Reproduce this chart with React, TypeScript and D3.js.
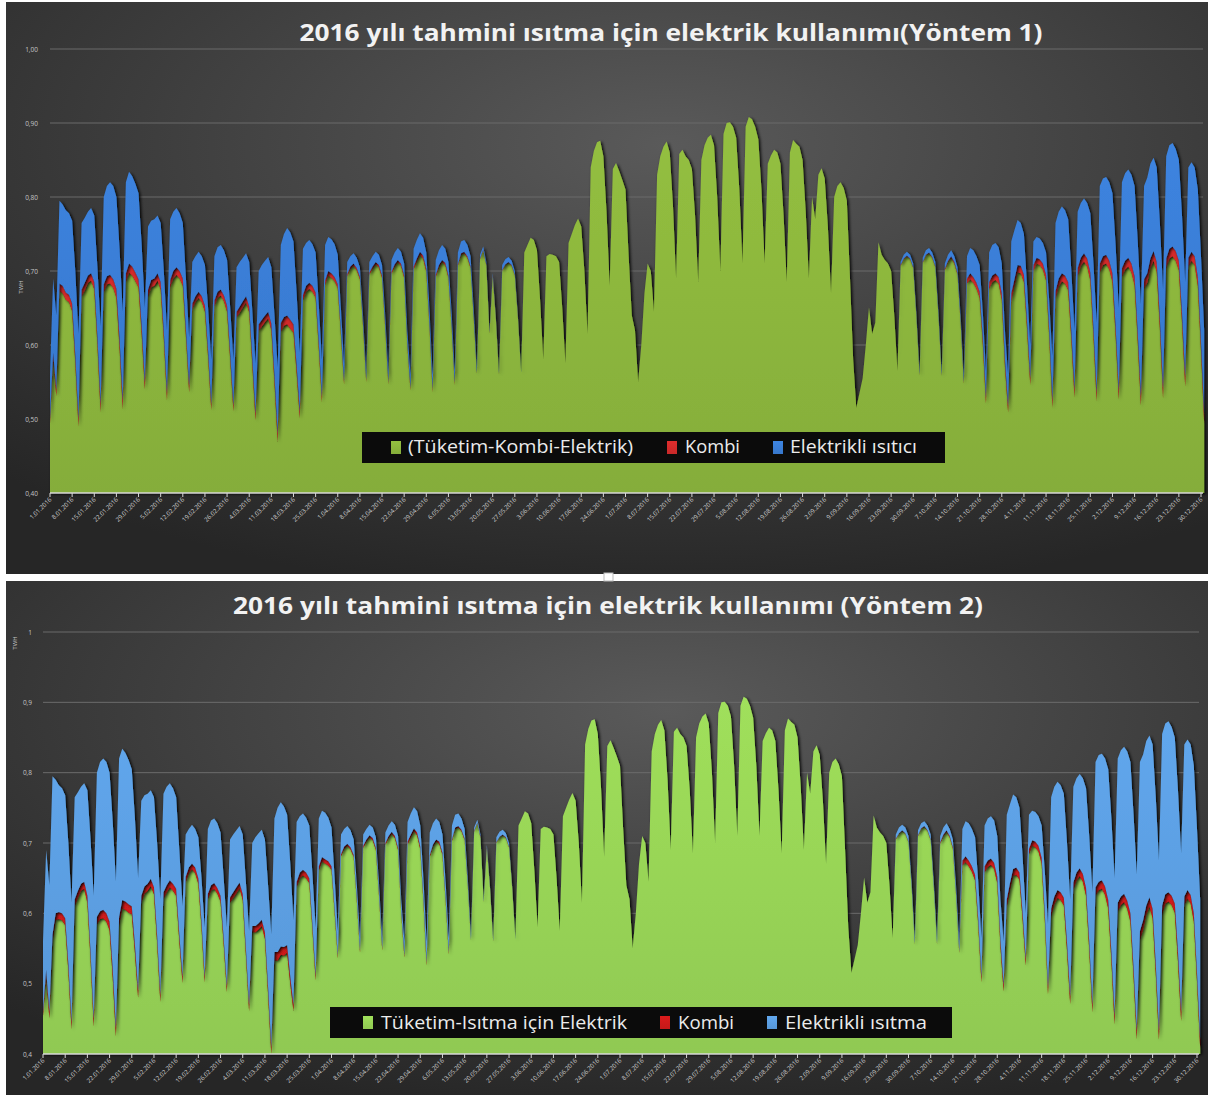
import { useEffect, useRef } from "react";
import * as d3 from "d3";

const W = 1208;
const H = 1095;

// daily total consumption, TWh x1000, rows = weeks (Mon..Sun), first row Fri 1 Jan - Sun 3 Jan
const totalRows = [
  [560, 690, 640],
  [795, 790, 782, 778, 768, 700, 615],
  [765, 772, 780, 785, 775, 705, 625],
  [800, 815, 820, 815, 800, 730, 645],
  [820, 834, 828, 818, 805, 735, 650],
  [760, 768, 770, 775, 765, 700, 620],
  [770, 780, 785, 778, 765, 690, 610],
  [712, 720, 726, 720, 708, 650, 580],
  [720, 732, 735, 728, 715, 650, 580],
  [705, 712, 718, 724, 712, 645, 575],
  [700, 708, 714, 719, 705, 640, 570],
  [735, 750, 758, 752, 740, 670, 590],
  [730, 738, 742, 736, 725, 655, 580],
  [735, 746, 743, 736, 722, 650, 575],
  [712, 720, 724, 718, 705, 640, 565],
  [712, 720, 726, 722, 708, 642, 565],
  [715, 725, 731, 726, 710, 620, 560],
  [730, 742, 751, 745, 725, 650, 560],
  [715, 728, 735, 730, 712, 645, 565],
  [725, 740, 742, 735, 720, 650, 570],
  [722, 733, 712, 620, 697, 640, 565],
  [708, 716, 719, 714, 700, 640, 565],
  [725, 735, 745, 742, 728, 660, 580],
  [720, 723, 722, 720, 712, 650, 575],
  [738, 750, 762, 771, 760, 700, 615],
  [840, 862, 874, 876, 855, 780, 680],
  [838, 846, 835, 823, 810, 720, 640],
  [620, 550, 600, 670, 710, 700, 645],
  [830, 855, 868, 875, 860, 790, 690],
  [858, 864, 855, 850, 838, 775, 685],
  [850, 870, 880, 884, 870, 800, 700],
  [885, 900, 901, 895, 880, 810, 710],
  [895, 908, 905, 895, 878, 810, 710],
  [845, 856, 864, 860, 845, 775, 685],
  [860, 877, 872, 868, 850, 780, 690],
  [800, 770, 830, 839, 825, 760, 670],
  [800, 815, 820, 812, 795, 690, 580],
  [515, 535, 555, 600, 651, 615, 630],
  [739, 722, 715, 710, 700, 640, 565],
  [712, 722, 726, 722, 710, 645, 565],
  [718, 728, 731, 725, 712, 645, 565],
  [710, 722, 728, 720, 705, 640, 560],
  [720, 731, 728, 720, 708, 645, 565],
  [725, 735, 738, 732, 710, 620, 560],
  [740, 755, 769, 765, 750, 680, 600],
  [740, 746, 744, 738, 725, 660, 585],
  [765, 780, 787, 782, 770, 700, 620],
  [780, 792, 798, 792, 778, 710, 630],
  [815, 825, 827, 820, 805, 735, 650],
  [820, 832, 837, 830, 815, 740, 655],
  [815, 826, 845, 853, 840, 765, 675],
  [855, 870, 873, 865, 850, 775, 685],
  [840, 847, 840, 810, 720, 620],
];

// heating parts: 1 Jan - 29 May (spring) and 26 Sep - 31 Dec (autumn); none in between
const summerGapDays = 119;

const kombiSpring = [
  [6, 9, 9],
  [10, 10, 10, 10, 10, 10, 10],
  [10, 10, 10, 10, 10, 10, 11],
  [11, 11, 12, 12, 12, 12, 12],
  [12, 12, 12, 12, 11, 11, 10],
  [10, 10, 10, 10, 10, 10, 10],
  [10, 10, 10, 10, 10, 9, 9],
  [8, 8, 8, 8, 8, 8, 8],
  [8, 8, 8, 8, 8, 8, 8],
  [8, 8, 8, 8, 8, 9, 9],
  [9, 9, 9, 9, 9, 10, 11],
  [12, 12, 12, 12, 11, 10, 9],
  [8, 8, 8, 8, 7, 7, 7],
  [6, 6, 6, 6, 5, 4, 4],
  [3, 3, 3, 3, 3, 3, 3],
  [3, 3, 3, 3, 3, 3, 3],
  [3, 3, 3, 3, 3, 3, 3],
  [4, 4, 4, 4, 4, 4, 4],
  [3, 3, 3, 3, 3, 3, 3],
  [2, 2, 2, 2, 2, 2, 1],
  [1, 1, 1, 1, 1, 1, 1],
  [1, 1, 1, 1, 1, 1, 0],
];
const kombiAutumn = [
  [1, 1, 1, 1, 1, 1, 1],
  [1, 1, 1, 1, 1, 1, 1],
  [2, 2, 2, 2, 2, 2, 2],
  [7, 8, 8, 8, 8, 8, 8],
  [9, 9, 9, 9, 9, 9, 9],
  [11, 10, 10, 10, 10, 9, 9],
  [8, 8, 8, 8, 8, 9, 10],
  [11, 11, 11, 11, 11, 11, 11],
  [11, 11, 11, 11, 11, 11, 11],
  [12, 12, 12, 12, 12, 12, 12],
  [12, 12, 12, 12, 12, 12, 12],
  [13, 13, 13, 13, 13, 13, 13],
  [13, 13, 13, 13, 13, 13, 13],
  [12, 12, 12, 12, 12, 12],
];

// Yöntem 1: Elektrikli ısıtıcı
const elec1Spring = [
  [60, 100, 100],
  [112, 110, 111, 110, 112, 114, 115],
  [90, 88, 86, 88, 90, 95, 105],
  [118, 122, 125, 126, 124, 122, 120],
  [123, 124, 122, 120, 116, 110, 100],
  [85, 80, 80, 78, 80, 82, 85],
  [82, 80, 80, 78, 75, 70, 65],
  [56, 54, 54, 54, 55, 58, 60],
  [60, 60, 60, 61, 62, 62, 62],
  [60, 60, 59, 58, 60, 64, 68],
  [72, 74, 74, 74, 76, 82, 90],
  [105, 112, 118, 118, 112, 98, 80],
  [62, 58, 58, 56, 54, 52, 50],
  [48, 46, 46, 44, 40, 32, 24],
  [16, 14, 14, 14, 13, 12, 12],
  [14, 14, 14, 14, 14, 15, 15],
  [16, 16, 16, 16, 16, 17, 18],
  [24, 25, 25, 24, 22, 20, 20],
  [20, 20, 20, 19, 18, 17, 16],
  [16, 16, 16, 15, 14, 12, 8],
  [5, 4, 4, 3, 3, 3, 4],
  [7, 7, 7, 6, 5, 3, 2],
];
const elec1Autumn = [
  [4, 5, 5, 5, 5, 5, 5],
  [6, 6, 6, 6, 6, 6, 6],
  [7, 8, 8, 8, 8, 9, 10],
  [30, 34, 36, 36, 36, 36, 36],
  [40, 41, 41, 40, 40, 40, 42],
  [70, 66, 61, 58, 55, 50, 45],
  [32, 28, 28, 28, 30, 40, 60],
  [92, 90, 90, 88, 85, 82, 80],
  [76, 74, 74, 75, 80, 88, 95],
  [105, 105, 105, 106, 108, 110, 112],
  [116, 118, 119, 120, 122, 124, 125],
  [126, 129, 128, 126, 128, 130, 134],
  [138, 140, 140, 138, 136, 132, 128],
  [122, 121, 120, 118, 116, 114],
];

// Yöntem 2: Elektrikli ısıtma
const elec2Spring = [
  [100, 170, 180],
  [225, 190, 180, 178, 175, 172, 170],
  [145, 140, 138, 140, 150, 160, 175],
  [205, 212, 215, 215, 212, 210, 208],
  [225, 215, 211, 205, 195, 180, 160],
  [135, 130, 128, 126, 128, 132, 136],
  [140, 140, 138, 136, 130, 120, 100],
  [60, 55, 55, 55, 58, 62, 70],
  [92, 92, 92, 92, 90, 86, 84],
  [82, 82, 81, 80, 85, 95, 105],
  [118, 126, 128, 128, 132, 145, 160],
  [190, 205, 205, 200, 185, 160, 120],
  [85, 80, 80, 78, 75, 72, 68],
  [68, 66, 66, 62, 55, 45, 35],
  [28, 25, 25, 24, 22, 20, 18],
  [16, 15, 15, 15, 15, 15, 15],
  [15, 15, 15, 16, 17, 18, 20],
  [28, 30, 30, 30, 30, 30, 30],
  [32, 30, 30, 28, 26, 24, 20],
  [20, 18, 18, 16, 14, 10, 8],
  [5, 4, 4, 3, 3, 3, 4],
  [7, 7, 7, 6, 5, 3, 2],
];
const elec2Autumn = [
  [6, 8, 8, 8, 8, 8, 8],
  [7, 7, 7, 7, 7, 8, 8],
  [9, 10, 10, 10, 11, 12, 14],
  [45, 50, 53, 53, 53, 53, 55],
  [58, 60, 60, 60, 58, 58, 62],
  [120, 112, 106, 100, 92, 80, 65],
  [48, 42, 42, 42, 46, 60, 90],
  [158, 156, 154, 152, 148, 142, 138],
  [136, 134, 134, 136, 142, 150, 160],
  [178, 180, 180, 182, 186, 190, 196],
  [205, 208, 209, 212, 215, 218, 222],
  [240, 236, 234, 230, 234, 238, 242],
  [244, 243, 243, 240, 236, 230, 225],
  [216, 214, 214, 210, 205, 200],
];

const tickLabels = [
  "1.01.2016", "8.01.2016", "15.01.2016", "22.01.2016", "29.01.2016",
  "5.02.2016", "12.02.2016", "19.02.2016", "26.02.2016",
  "4.03.2016", "11.03.2016", "18.03.2016", "25.03.2016",
  "1.04.2016", "8.04.2016", "15.04.2016", "22.04.2016", "29.04.2016",
  "6.05.2016", "13.05.2016", "20.05.2016", "27.05.2016",
  "3.06.2016", "10.06.2016", "17.06.2016", "24.06.2016",
  "1.07.2016", "8.07.2016", "15.07.2016", "22.07.2016", "29.07.2016",
  "5.08.2016", "12.08.2016", "19.08.2016", "26.08.2016",
  "2.09.2016", "9.09.2016", "16.09.2016", "23.09.2016", "30.09.2016",
  "7.10.2016", "14.10.2016", "21.10.2016", "28.10.2016",
  "4.11.2016", "11.11.2016", "18.11.2016", "25.11.2016",
  "2.12.2016", "9.12.2016", "16.12.2016", "23.12.2016", "30.12.2016",
];

const yTickValues = [0.4, 0.5, 0.6, 0.7, 0.8, 0.9, 1.0];
const yTickLabels1 = ["0,40", "0,50", "0,60", "0,70", "0,80", "0,90", "1,00"];
const yTickLabels2 = ["0,4", "0,5", "0,6", "0,7", "0,8", "0,9", "1"];

const legend1 = ["(Tüketim-Kombi-Elektrik)", "Kombi", "Elektrikli ısıtıcı"];
const legend2 = ["Tüketim-Isıtma için Elektrik", "Kombi", "Elektrikli ısıtma"];

const toTWh = (rows: number[][]) => rows.flat().map((v) => v / 1000);
const seasonal = (spring: number[][], autumn: number[][]) =>
  [...spring.flat(), ...new Array(summerGapDays).fill(0), ...autumn.flat()].map((v) => v / 1000);

const total = toTWh(totalRows);
const kombi = seasonal(kombiSpring, kombiAutumn);
const elec1 = seasonal(elec1Spring, elec1Autumn);
const elec2 = seasonal(elec2Spring, elec2Autumn);

const FONT = "'Open Sans', 'DejaVu Sans', sans-serif";

type Panel = {
  top: number;
  bottom: number;
  bg: string;
  x0: number;
  x1: number;
  yBase: number;
  yTop: number;
  title: string;
  titleX: number;
  titleY: number;
  titleLen: number;
  yLabels: string[];
  yLabelX: number;
  twhY: number;
  elec: number[];
  colors: string[];
  grads: string[];
  legend: string[];
  box: number[];
  items: { sq: number; tx: number; len: number }[];
  legendBase: number;
};

const panels: Panel[] = [
  {
    top: 2, bottom: 574, bg: "bg1",
    x0: 50, x1: 1201, yBase: 493, yTop: 49,
    title: "2016 yılı tahmini ısıtma için elektrik kullanımı(Yöntem 1)",
    titleX: 671, titleY: 41, titleLen: 743,
    yLabels: yTickLabels1, yLabelX: 38, twhY: 287,
    elec: elec1,
    colors: ["#8cb63d", "#d42b2b", "#3a7ed6"],
    grads: ["g1a", "g1b", "g1c"],
    legend: legend1,
    box: [362, 432, 583, 31],
    items: [
      { sq: 391, tx: 408, len: 225 },
      { sq: 667, tx: 685, len: 55 },
      { sq: 773, tx: 790, len: 127 },
    ],
    legendBase: 453,
  },
  {
    top: 581, bottom: 1095, bg: "bg2",
    x0: 43, x1: 1197, yBase: 1054, yTop: 632,
    title: "2016 yılı tahmini ısıtma için elektrik kullanımı (Yöntem 2)",
    titleX: 608, titleY: 614, titleLen: 750,
    yLabels: yTickLabels2, yLabelX: 32, twhY: 643,
    elec: elec2,
    colors: ["#98d456", "#d01a1a", "#5c9fe3"],
    grads: ["g2a", "g2b", "g2c"],
    legend: legend2,
    box: [330, 1007, 622, 31],
    items: [
      { sq: 363, tx: 381, len: 246 },
      { sq: 660, tx: 678, len: 56 },
      { sq: 767, tx: 785, len: 142 },
    ],
    legendBase: 1029,
  },
];

export default function App() {
  const svgRef = useRef<SVGSVGElement | null>(null);

  useEffect(() => {
    const svg = d3.select(svgRef.current);
    svg.selectAll("*").remove();

    const defs = svg.append("defs");
    ["bg1", "bg2"].forEach((id) => {
      const rg = defs
        .append("radialGradient")
        .attr("id", id)
        .attr("cx", "55%")
        .attr("cy", "25%")
        .attr("r", "80%");
      rg.append("stop").attr("offset", "0%").attr("stop-color", "#5a5a5a");
      rg.append("stop").attr("offset", "55%").attr("stop-color", "#3d3d3d");
      rg.append("stop").attr("offset", "100%").attr("stop-color", "#262626");
    });

    const f = defs
      .append("filter")
      .attr("id", "shade")
      .attr("x", "-2%")
      .attr("y", "-5%")
      .attr("width", "104%")
      .attr("height", "112%");
    f.append("feDropShadow")
      .attr("dx", 1.6)
      .attr("dy", 1)
      .attr("stdDeviation", 1.8)
      .attr("flood-color", "#000")
      .attr("flood-opacity", 0.95);

    svg.append("rect").attr("width", W).attr("height", H).attr("fill", "#fff");

    panels.forEach((p) => {
      p.colors.forEach((c, i) => {
        const lg = defs
          .append("linearGradient")
          .attr("id", p.grads[i])
          .attr("x1", 0)
          .attr("y1", 0)
          .attr("x2", 0)
          .attr("y2", 1);
        lg.append("stop").attr("offset", "0%").attr("stop-color", d3.color(c)!.brighter(0.15).formatHex());
        lg.append("stop").attr("offset", "100%").attr("stop-color", d3.color(c)!.darker(0.15).formatHex());
      });

      const g = svg.append("g");
      g.append("rect")
        .attr("x", 6)
        .attr("y", p.top)
        .attr("width", W - 6)
        .attr("height", p.bottom - p.top)
        .attr("fill", `url(#${p.bg})`);

      const x = d3.scaleLinear().domain([0, 364]).range([p.x0, p.x1]);
      const y = d3.scaleLinear().domain([0.4, 1]).range([p.yBase, p.yTop]).clamp(true);

      g.append("g")
        .selectAll("line")
        .data(yTickValues.slice(1))
        .join("line")
        .attr("x1", p.x0)
        .attr("x2", p.x1 + 2)
        .attr("y1", (d) => y(d))
        .attr("y2", (d) => y(d))
        .attr("stroke", "#6b6b6b")
        .attr("stroke-width", 1);

      g.append("g")
        .selectAll("text")
        .data(yTickValues)
        .join("text")
        .attr("x", p.yLabelX)
        .attr("y", (d) => y(d) + 2.5)
        .attr("text-anchor", "end")
        .attr("font-family", FONT)
        .attr("font-size", 6.5)
        .attr("fill", "#c4c4c4")
        .text((d, i) => p.yLabels[i]);

      g.append("text")
        .attr("transform", `translate(${p.yLabelX - 15},${p.twhY}) rotate(-90)`)
        .attr("text-anchor", "middle")
        .attr("font-family", FONT)
        .attr("font-size", 6)
        .attr("fill", "#c4c4c4")
        .text("TWH");

      const rows = total.map((t, i) => ({
        green: t - kombi[i] - p.elec[i],
        kombi: kombi[i],
        elec: p.elec[i],
      }));
      const series = d3.stack<any>().keys(["green", "kombi", "elec"])(rows);
      const area = d3
        .area<any>()
        .x((d, i) => x(i))
        .y0((d) => y(d[0]))
        .y1((d) => y(d[1]));

      g.append("g")
        .selectAll("path")
        .data(series)
        .join("path")
        .attr("d", (s) => area(s as any))
        .attr("fill", (s, i) => `url(#${p.grads[i]})`)
        .attr("filter", "url(#shade)");

      // x axis
      const axisG = g.append("g");
      axisG
        .append("line")
        .attr("x1", p.x0)
        .attr("x2", p.x1 + 2)
        .attr("y1", p.yBase)
        .attr("y2", p.yBase)
        .attr("stroke", "#d8d8d8")
        .attr("stroke-width", 1.5);
      const ticks = tickLabels.map((l, k) => ({ l, i: k * 7 }));
      axisG
        .selectAll("line.t")
        .data(ticks)
        .join("line")
        .attr("class", "t")
        .attr("x1", (d) => x(d.i))
        .attr("x2", (d) => x(d.i))
        .attr("y1", p.yBase)
        .attr("y2", p.yBase + 4)
        .attr("stroke", "#d8d8d8");
      axisG
        .selectAll("text")
        .data(ticks)
        .join("text")
        .attr("transform", (d) => `translate(${x(d.i) + 2},${p.yBase + 7}) rotate(-45)`)
        .attr("text-anchor", "end")
        .attr("font-family", FONT)
        .attr("font-size", 6.2)
        .attr("fill", "#cfcfcf")
        .text((d) => d.l);

      // title
      g.append("text")
        .attr("x", p.titleX)
        .attr("y", p.titleY)
        .attr("text-anchor", "middle")
        .attr("font-family", FONT)
        .attr("font-weight", 700)
        .attr("font-size", 24)
        .attr("fill", "#f2f2f2")
        .attr("textLength", p.titleLen)
        .attr("lengthAdjust", "spacingAndGlyphs")
        .text(p.title);

      // legend
      const [bx, by, bw, bh] = p.box;
      const lg = g.append("g");
      lg.append("rect").attr("x", bx).attr("y", by).attr("width", bw).attr("height", bh).attr("fill", "#0b0b0b");
      p.items.forEach((it, i) => {
        lg.append("rect")
          .attr("x", it.sq)
          .attr("y", by + 9)
          .attr("width", 10)
          .attr("height", 13)
          .attr("fill", `url(#${p.grads[i]})`);
        lg.append("text")
          .attr("x", it.tx)
          .attr("y", p.legendBase)
          .attr("font-family", FONT)
          .attr("font-size", 18)
          .attr("fill", "#ececec")
          .attr("textLength", it.len)
          .attr("lengthAdjust", "spacingAndGlyphs")
          .text(p.legend[i]);
      });
    });

    // separator between the two charts
    svg.append("rect").attr("x", 0).attr("y", 574).attr("width", W).attr("height", 7).attr("fill", "#fff");
    svg.append("rect").attr("x", 604).attr("y", 573).attr("width", 9).attr("height", 8).attr("fill", "#fff").attr("stroke", "#bbb");
  }, []);

  return (
    <svg
      ref={svgRef}
      width={W}
      height={H}
      style={{ position: "absolute", left: 0, top: 0, display: "block" }}
    />
  );
}
